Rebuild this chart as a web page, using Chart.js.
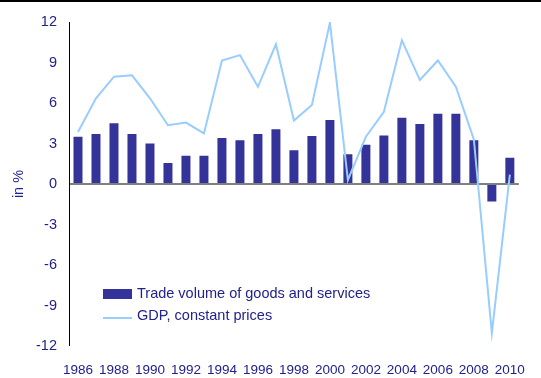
<!DOCTYPE html>
<html>
<head>
<meta charset="utf-8">
<script src="https://cdn.jsdelivr.net/npm/chart.js@4"></script>
<style>
html,body{margin:0;padding:0;background:#fff;}
#wrap{position:relative;width:541px;height:378px;}
#topline{position:absolute;left:0;top:0;width:541px;height:2px;background:#000;}
canvas{display:block;}
</style>
</head>
<body>
<div id="wrap"><canvas id="c" width="541" height="378"></canvas><div id="topline"></div></div>
<script>
const years = ['1986','1987','1988','1989','1990','1991','1992','1993','1994','1995','1996','1997','1998','1999','2000','2001','2002','2003','2004','2005','2006','2007','2008','2009','2010'];
const tradeVolume = [3.5,3.7,4.5,3.7,3.0,1.55,2.1,2.1,3.4,3.25,3.7,4.05,2.5,3.55,4.75,2.2,2.9,3.6,4.9,4.45,5.2,5.2,3.25,-1.3,1.95];
const gdp = [3.85,6.35,7.95,8.05,6.35,4.35,4.55,3.75,9.15,9.55,7.2,10.35,4.7,5.85,11.95,0.3,3.5,5.35,10.65,7.7,9.15,7.2,3.3,-11.05,0.7];
const legendLabels = ['Trade volume of goods and services','GDP, constant prices'];
const yTicks = [-12,-9,-6,-3,0,3,6,9,12];

const txtColor = '#22228c';
const barColor = '#333399';
const lineColor = '#99ccff';
const fontFam = '"Liberation Sans", Arial, sans-serif';

const legendPlugin = {
  id: 'customLegend',
  afterDraw(chart) {
    const ctx = chart.ctx;
    ctx.save();
    ctx.fillStyle = barColor;
    ctx.fillRect(103, 289, 29, 10);
    ctx.strokeStyle = lineColor;
    ctx.lineWidth = 2;
    ctx.beginPath();
    ctx.moveTo(103, 318);
    ctx.lineTo(132, 318);
    ctx.stroke();
    ctx.fillStyle = txtColor;
    ctx.font = '14.5px ' + fontFam;
    ctx.textBaseline = 'middle';
    ctx.textAlign = 'left';
    ctx.fillText(legendLabels[0], 137, 294);
    ctx.fillText(legendLabels[1], 137, 316);
    ctx.restore();
  }
};

new Chart(document.getElementById('c'), {
  data: {
    labels: years,
    datasets: [
      {
        type: 'line',
        label: legendLabels[1],
        data: gdp,
        borderColor: lineColor,
        borderWidth: 2,
        pointRadius: 0,
        tension: 0,
        fill: false,
        order: 1
      },
      {
        type: 'bar',
        label: legendLabels[0],
        data: tradeVolume,
        backgroundColor: barColor,
        borderWidth: 0,
        categoryPercentage: 0.5,
        barPercentage: 1.0,
        order: 2
      }
    ]
  },
  options: {
    responsive: false,
    animation: false,
    devicePixelRatio: 1,
    layout: { padding: { top: 22, right: 7, left: 0, bottom: 0 } },
    plugins: { legend: { display: false }, tooltip: { enabled: false } },
    scales: {
      x: {
        grid: { display: false, drawTicks: false },
        border: { display: false },
        ticks: {
          autoSkip: false,
          maxRotation: 0,
          color: txtColor,
          font: { family: fontFam, size: 13.5 },
          padding: 16,
          callback: function(v, i) { return i % 2 === 0 ? years[i] : ''; }
        },
        afterFit(scale) { scale.height = 32; }
      },
      y: {
        min: -12,
        max: 12,
        afterBuildTicks(scale) { scale.ticks = yTicks.map(v => ({ value: v })); },
        grid: {
          drawTicks: false,
          color: ctx => (ctx.tick && ctx.tick.value === 0) ? '#808080' : 'rgba(0,0,0,0)',
          lineWidth: ctx => (ctx.tick && ctx.tick.value === 0) ? 2 : 0
        },
        border: { display: true, color: '#000', width: 1 },
        ticks: {
          color: txtColor,
          font: { family: fontFam, size: 14.5 },
          padding: 12
        },
        title: {
          display: true,
          text: 'in %',
          color: txtColor,
          font: { family: fontFam, size: 14.5 },
          padding: { top: 10, bottom: 0 }
        },
        afterFit(scale) { scale.width = 69; }
      }
    }
  },
  plugins: [legendPlugin]
});
</script>
</body>
</html>
